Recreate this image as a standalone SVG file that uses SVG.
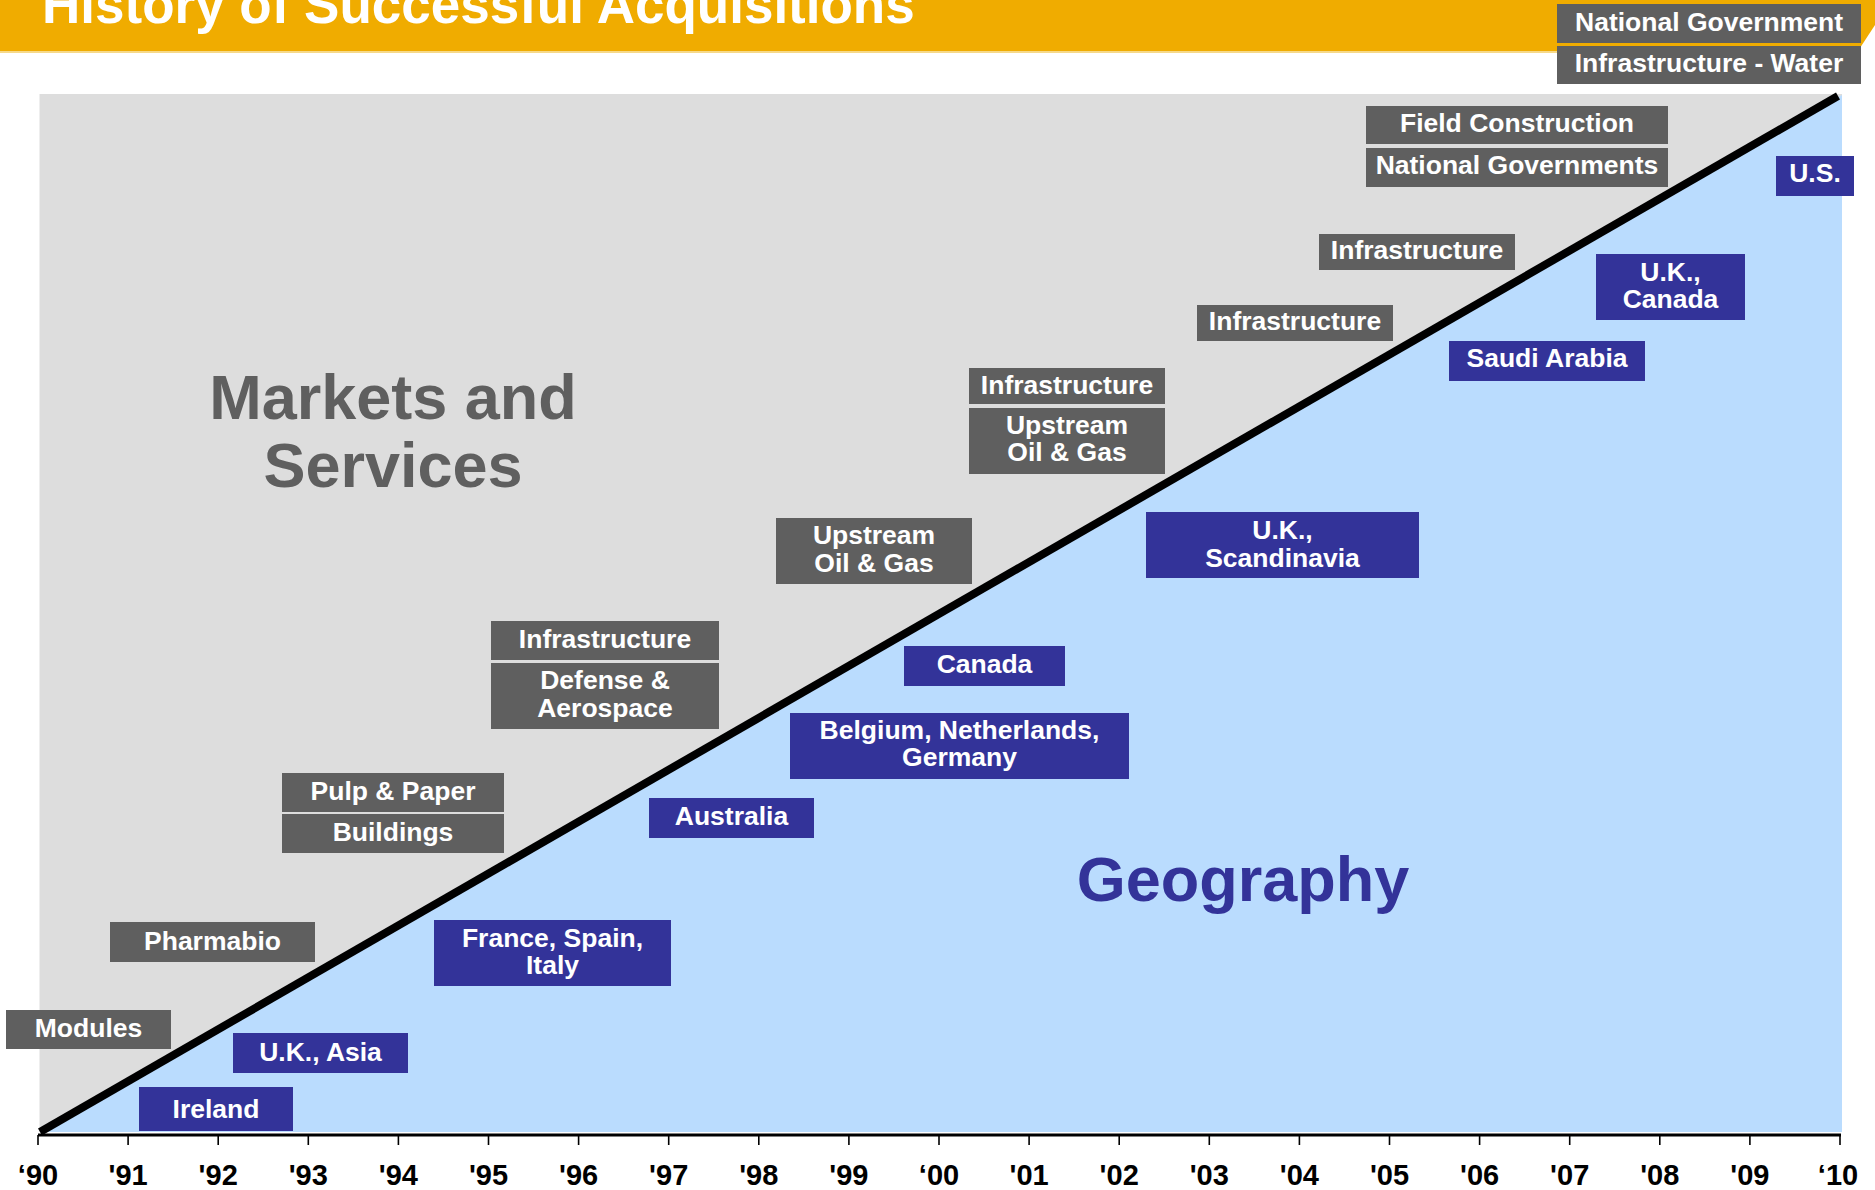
<svg xmlns="http://www.w3.org/2000/svg" width="1875" height="1190" viewBox="0 0 1875 1190">
<style>
  text { font-family: "Liberation Sans", Arial, sans-serif; font-weight: bold; }
  .g { fill: #5f5f5f; }
  .b { fill: #333399; }
  .lbl { fill: #ffffff; font-size: 26.5px; text-anchor: middle; }
  .yr { fill: #000000; font-size: 29px; text-anchor: middle; }
  .tick { stroke: #000000; stroke-width: 1.6; }
</style>
<rect x="0" y="0" width="1875" height="1190" fill="#ffffff"/>
<g id="header">
  <polygon points="0,0 1875,0 1875,25 1858,51 0,51" fill="#f0ac00"/>
  <line x1="0" y1="52" x2="1857" y2="52" stroke="#f6d98a" stroke-width="2"/>
  <text x="42" y="23" fill="#ffffff" font-size="53">History of Successful Acquisitions</text>
</g>
<g id="background">
  <rect x="39.5" y="94" width="1802.5" height="1038" fill="#dddddd"/>
  <polygon points="40,1132 1842,95 1842,1132" fill="#badcfe"/>
  <text x="393" y="419" fill="#5f5f5f" font-size="63" text-anchor="middle">Markets and</text>
  <text x="393" y="487" fill="#5f5f5f" font-size="63" text-anchor="middle">Services</text>
  <text x="1243" y="901" fill="#333399" font-size="63" text-anchor="middle">Geography</text>
</g>
<g id="connectors">
  <line x1="40" y1="1132" x2="1838" y2="96" stroke="#000000" stroke-width="8"/>
  <line x1="38" y1="1135" x2="1841" y2="1135" stroke="#000000" stroke-width="3"/>
  <g id="ticks">
    <line class="tick" x1="38" y1="1135" x2="38" y2="1145"/>
    <line class="tick" x1="128.1" y1="1135" x2="128.1" y2="1145"/>
    <line class="tick" x1="218.2" y1="1135" x2="218.2" y2="1145"/>
    <line class="tick" x1="308.3" y1="1135" x2="308.3" y2="1145"/>
    <line class="tick" x1="398.4" y1="1135" x2="398.4" y2="1145"/>
    <line class="tick" x1="488.5" y1="1135" x2="488.5" y2="1145"/>
    <line class="tick" x1="578.6" y1="1135" x2="578.6" y2="1145"/>
    <line class="tick" x1="668.7" y1="1135" x2="668.7" y2="1145"/>
    <line class="tick" x1="758.8" y1="1135" x2="758.8" y2="1145"/>
    <line class="tick" x1="848.9" y1="1135" x2="848.9" y2="1145"/>
    <line class="tick" x1="939" y1="1135" x2="939" y2="1145"/>
    <line class="tick" x1="1029.1" y1="1135" x2="1029.1" y2="1145"/>
    <line class="tick" x1="1119.2" y1="1135" x2="1119.2" y2="1145"/>
    <line class="tick" x1="1209.3" y1="1135" x2="1209.3" y2="1145"/>
    <line class="tick" x1="1299.4" y1="1135" x2="1299.4" y2="1145"/>
    <line class="tick" x1="1389.5" y1="1135" x2="1389.5" y2="1145"/>
    <line class="tick" x1="1479.6" y1="1135" x2="1479.6" y2="1145"/>
    <line class="tick" x1="1569.7" y1="1135" x2="1569.7" y2="1145"/>
    <line class="tick" x1="1659.8" y1="1135" x2="1659.8" y2="1145"/>
    <line class="tick" x1="1749.9" y1="1135" x2="1749.9" y2="1145"/>
    <line class="tick" x1="1840" y1="1135" x2="1840" y2="1145"/>
  </g>
</g>
<g id="years">
  <text class="yr" x="38" y="1185">‘90</text>
  <text class="yr" x="128.1" y="1185">'91</text>
  <text class="yr" x="218.2" y="1185">'92</text>
  <text class="yr" x="308.3" y="1185">'93</text>
  <text class="yr" x="398.4" y="1185">'94</text>
  <text class="yr" x="488.5" y="1185">'95</text>
  <text class="yr" x="578.6" y="1185">'96</text>
  <text class="yr" x="668.7" y="1185">'97</text>
  <text class="yr" x="758.8" y="1185">'98</text>
  <text class="yr" x="848.9" y="1185">'99</text>
  <text class="yr" x="939" y="1185">‘00</text>
  <text class="yr" x="1029.1" y="1185">'01</text>
  <text class="yr" x="1119.2" y="1185">'02</text>
  <text class="yr" x="1209.3" y="1185">'03</text>
  <text class="yr" x="1299.4" y="1185">'04</text>
  <text class="yr" x="1389.5" y="1185">'05</text>
  <text class="yr" x="1479.6" y="1185">'06</text>
  <text class="yr" x="1569.7" y="1185">'07</text>
  <text class="yr" x="1659.8" y="1185">'08</text>
  <text class="yr" x="1749.9" y="1185">'09</text>
  <text class="yr" x="1838" y="1185">‘10</text>
</g>
<g id="modules"><rect class="g" x="6" y="1010" width="165" height="39"/><text class="lbl" x="88.5" y="1037">Modules</text></g>
<g id="pharmabio"><rect class="g" x="110" y="922" width="205" height="40"/><text class="lbl" x="212.5" y="950">Pharmabio</text></g>
<g id="pulp-paper"><rect class="g" x="282" y="773" width="222" height="39"/><text class="lbl" x="393" y="800">Pulp &amp; Paper</text></g>
<g id="buildings"><rect class="g" x="282" y="814" width="222" height="39"/><text class="lbl" x="393" y="841">Buildings</text></g>
<g id="infrastructure-95"><rect class="g" x="491" y="621" width="228" height="39"/><text class="lbl" x="605" y="648">Infrastructure</text></g>
<g id="defense-aerospace"><rect class="g" x="491" y="663" width="228" height="66"/><text class="lbl" x="605" y="689">Defense &amp;</text><text class="lbl" x="605" y="717">Aerospace</text></g>
<g id="upstream-98"><rect class="g" x="776" y="518" width="196" height="66"/><text class="lbl" x="874" y="544">Upstream</text><text class="lbl" x="874" y="572">Oil &amp; Gas</text></g>
<g id="infrastructure-00"><rect class="g" x="969" y="368" width="196" height="36"/><text class="lbl" x="1067" y="394">Infrastructure</text></g>
<g id="upstream-00"><rect class="g" x="969" y="408" width="196" height="66"/><text class="lbl" x="1067" y="434">Upstream</text><text class="lbl" x="1067" y="461">Oil &amp; Gas</text></g>
<g id="infrastructure-03"><rect class="g" x="1197" y="305" width="196" height="36"/><text class="lbl" x="1295" y="330">Infrastructure</text></g>
<g id="infrastructure-04"><rect class="g" x="1319" y="234" width="196" height="36"/><text class="lbl" x="1417" y="259">Infrastructure</text></g>
<g id="field-construction"><rect class="g" x="1366" y="106" width="302" height="38"/><text class="lbl" x="1517" y="132">Field Construction</text></g>
<g id="national-governments"><rect class="g" x="1366" y="148" width="302" height="39"/><text class="lbl" x="1517" y="174">National Governments</text></g>
<g id="national-government"><rect class="g" x="1557" y="4" width="304" height="39"/><text class="lbl" x="1709" y="31">National Government</text></g>
<g id="infrastructure-water"><rect class="g" x="1557" y="46" width="304" height="38"/><text class="lbl" x="1709" y="72">Infrastructure - Water</text></g>
<g id="ireland"><rect class="b" x="139" y="1087" width="154" height="44"/><text class="lbl" x="216" y="1118">Ireland</text></g>
<g id="uk-asia"><rect class="b" x="233" y="1033" width="175" height="40"/><text class="lbl" x="320.5" y="1061">U.K., Asia</text></g>
<g id="france-spain-italy"><rect class="b" x="434" y="920" width="237" height="66"/><text class="lbl" x="552.5" y="947">France, Spain,</text><text class="lbl" x="552.5" y="974">Italy</text></g>
<g id="australia"><rect class="b" x="649" y="798" width="165" height="40"/><text class="lbl" x="731.5" y="825">Australia</text></g>
<g id="belgium-netherlands-germany"><rect class="b" x="790" y="713" width="339" height="66"/><text class="lbl" x="959.5" y="739">Belgium, Netherlands,</text><text class="lbl" x="959.5" y="766">Germany</text></g>
<g id="canada"><rect class="b" x="904" y="646" width="161" height="40"/><text class="lbl" x="984.5" y="673">Canada</text></g>
<g id="uk-scandinavia"><rect class="b" x="1146" y="512" width="273" height="66"/><text class="lbl" x="1282.5" y="539">U.K.,</text><text class="lbl" x="1282.5" y="567">Scandinavia</text></g>
<g id="saudi-arabia"><rect class="b" x="1449" y="341" width="196" height="40"/><text class="lbl" x="1547" y="367">Saudi Arabia</text></g>
<g id="uk-canada"><rect class="b" x="1596" y="254" width="149" height="66"/><text class="lbl" x="1670.5" y="281">U.K.,</text><text class="lbl" x="1670.5" y="308">Canada</text></g>
<g id="us"><rect class="b" x="1776" y="156" width="78" height="40"/><text class="lbl" x="1815" y="182">U.S.</text></g>
</svg>
